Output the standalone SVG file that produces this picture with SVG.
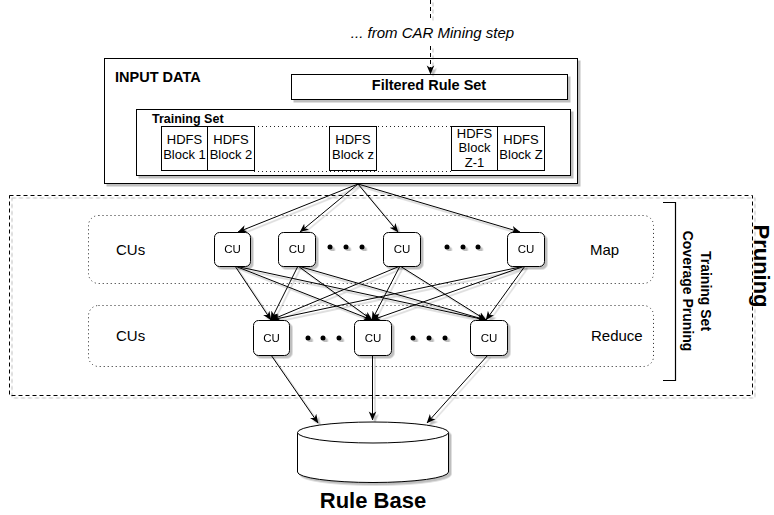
<svg xmlns="http://www.w3.org/2000/svg" width="774" height="515" viewBox="0 0 774 515">
<defs>
<filter id="sh" x="-5%" y="-5%" width="115%" height="130%">
<feDropShadow dx="2.5" dy="2.5" stdDeviation="0.6" flood-color="#000" flood-opacity="0.25"/>
</filter>
<marker id="arr" viewBox="0 0 10 10" refX="9.5" refY="5" markerWidth="9" markerHeight="9" markerUnits="userSpaceOnUse" orient="auto">
<path d="M0,0.8 L10,5 L0,9.2 L2.8,5 z" fill="#000"/>
</marker>
<style>
text{font-family:"Liberation Sans",Arial,Helvetica,sans-serif;fill:#000}
.box{fill:#fff;stroke:#000;stroke-width:1}
.cu{fill:#fff;stroke:#000;stroke-width:1}
.dot{fill:none;stroke:#222;stroke-width:1;stroke-dasharray:1 3}
.e{stroke:#000;stroke-width:1;fill:none;marker-end:url(#arr)}
.t13{font-size:13px}
.cut{font-size:11.5px;text-anchor:middle}
.lbl{font-size:15px}
</style>
</defs>
<rect width="774" height="515" fill="#fff"/>

<g id="pruning" filter="url(#sh)">
<rect x="9.5" y="195.5" width="743" height="200" fill="none" stroke="#000" stroke-dasharray="4 3"/>
</g>
<g id="pruning-label">
<text transform="translate(754,266) rotate(90)" font-size="22" font-weight="bold" text-anchor="middle">Pruning</text>
</g>
<g id="coverage-bracket">
<path d="M663,202.5 H675.5 V380.5 H663" fill="none" stroke="#000" stroke-width="1.2"/>
<text transform="translate(701,291) rotate(90)" font-size="14" font-weight="bold" text-anchor="middle">Training Set</text>
<text transform="translate(683,291) rotate(90)" font-size="14" font-weight="bold" text-anchor="middle">Coverage Pruning</text>
</g>

<g id="map-lane">
<rect x="88.5" y="215.5" width="565" height="68" rx="10" class="dot"/>
<text x="116" y="254.5" class="lbl">CUs</text>
<text x="590" y="254.5" class="lbl">Map</text>
</g>
<g id="reduce-lane">
<rect x="88.5" y="305.5" width="565" height="61" rx="10" class="dot"/>
<text x="116" y="340.5" class="lbl">CUs</text>
<text x="591" y="340.5" class="lbl">Reduce</text>
</g>

<g id="input-data">
<rect x="104.5" y="58.5" width="473" height="125" class="box" filter="url(#sh)"/>
<text x="115" y="82" font-size="14.5" font-weight="bold">INPUT DATA</text>
</g>
<g id="filtered-rule-set">
<rect x="291.5" y="74.5" width="276" height="25" class="box" filter="url(#sh)"/>
<text x="429" y="89.5" font-size="14.5" font-weight="bold" text-anchor="middle">Filtered Rule Set</text>
</g>
<g id="training-set">
<rect x="136.5" y="109.5" width="434" height="66" class="box" filter="url(#sh)"/>
<text x="152" y="123" font-size="12.5" font-weight="bold">Training Set</text>
<line x1="254" y1="126.5" x2="451" y2="126.5" class="dot"/>
<line x1="254" y1="171.5" x2="451" y2="171.5" class="dot"/>
</g>
<g id="hdfs-1">
<rect x="161.5" y="126.5" width="46" height="44" class="box"/>
<text x="184.5" y="144" class="t13" text-anchor="middle">HDFS</text>
<text x="184.5" y="159" class="t13" text-anchor="middle">Block 1</text>
</g>
<g id="hdfs-2">
<rect x="207.5" y="126.5" width="47" height="44" class="box"/>
<text x="231" y="144" class="t13" text-anchor="middle">HDFS</text>
<text x="231" y="159" class="t13" text-anchor="middle">Block 2</text>
</g>
<g id="hdfs-z">
<rect x="329.5" y="126.5" width="47" height="44" class="box"/>
<text x="353" y="144" class="t13" text-anchor="middle">HDFS</text>
<text x="353" y="159" class="t13" text-anchor="middle">Block z</text>
</g>
<g id="hdfs-Z-1">
<rect x="451.5" y="126.5" width="46" height="44" class="box"/>
<text x="474.5" y="137.5" class="t13" text-anchor="middle">HDFS</text>
<text x="474.5" y="152" class="t13" text-anchor="middle">Block</text>
<text x="474.5" y="167" class="t13" text-anchor="middle">Z-1</text>
</g>
<g id="hdfs-Z">
<rect x="497.5" y="126.5" width="47" height="44" class="box"/>
<text x="521" y="144" class="t13" text-anchor="middle">HDFS</text>
<text x="521" y="159" class="t13" text-anchor="middle">Block Z</text>
</g>

<g id="from-car">
<text x="432.5" y="38" font-size="15" font-style="italic" text-anchor="middle">... from CAR Mining step</text>
</g>

<g id="connectors" filter="url(#sh)">
<path d="M430.5,0 V20" stroke="#000" stroke-dasharray="4 3" fill="none"/>
<path d="M430.5,46 V74" stroke="#000" stroke-dasharray="4 3" fill="none" marker-end="url(#arr)"/>
<path class="e" d="M358,184 L238,232"/>
<path class="e" d="M358,184 L300,232"/>
<path class="e" d="M358,184 L398,232"/>
<path class="e" d="M358,184 L520,232"/>
<path class="e" d="M235,266 L271,320"/>
<path class="e" d="M235,266 L372,320"/>
<path class="e" d="M235,266 L486,320"/>
<path class="e" d="M298,266 L271,320"/>
<path class="e" d="M298,266 L372,320"/>
<path class="e" d="M298,266 L486,320"/>
<path class="e" d="M400,266 L271,320"/>
<path class="e" d="M400,266 L372,320"/>
<path class="e" d="M400,266 L486,320"/>
<path class="e" d="M525,266 L271,320"/>
<path class="e" d="M525,266 L372,320"/>
<path class="e" d="M525,266 L486,320"/>
<path class="e" d="M271,355 L318,423"/>
<path class="e" d="M372.5,355 L372.5,420"/>
<path class="e" d="M488,355 L427,423"/>
</g>

<g id="map-cu-1" filter="url(#sh)"><rect x="214.5" y="232.5" width="36" height="34" rx="5" class="cu"/><text x="232.5" y="253" class="cut">CU</text></g>
<g id="map-cu-2" filter="url(#sh)"><rect x="278.5" y="232.5" width="37" height="34" rx="5" class="cu"/><text x="297" y="253" class="cut">CU</text></g>
<g id="map-cu-3" filter="url(#sh)"><rect x="383.5" y="232.5" width="37" height="34" rx="5" class="cu"/><text x="402" y="253" class="cut">CU</text></g>
<g id="map-cu-4" filter="url(#sh)"><rect x="507.5" y="232.5" width="37" height="34" rx="5" class="cu"/><text x="526" y="253" class="cut">CU</text></g>
<g id="map-dots" filter="url(#sh)">
<circle cx="330" cy="247" r="2.5"/><circle cx="346" cy="247" r="2.5"/><circle cx="362" cy="247" r="2.5"/>
<circle cx="447" cy="247" r="2.5"/><circle cx="463" cy="247" r="2.5"/><circle cx="478" cy="247" r="2.5"/>
</g>

<g id="reduce-cu-1" filter="url(#sh)"><rect x="253.5" y="320.5" width="36" height="35" rx="5" class="cu"/><text x="271.5" y="341.5" class="cut">CU</text></g>
<g id="reduce-cu-2" filter="url(#sh)"><rect x="354.5" y="320.5" width="37" height="35" rx="5" class="cu"/><text x="373" y="341.5" class="cut">CU</text></g>
<g id="reduce-cu-3" filter="url(#sh)"><rect x="470.5" y="320.5" width="37" height="35" rx="5" class="cu"/><text x="489" y="341.5" class="cut">CU</text></g>
<g id="reduce-dots" filter="url(#sh)">
<circle cx="308" cy="338" r="2.5"/><circle cx="323" cy="338" r="2.5"/><circle cx="339" cy="338" r="2.5"/>
<circle cx="413" cy="338" r="2.5"/><circle cx="429" cy="338" r="2.5"/><circle cx="445" cy="338" r="2.5"/>
</g>

<g id="rule-base">
<g filter="url(#sh)">
<path d="M297.5,432.5 V472 A75.5,10.5 0 0 0 448.5,472 V432.5" fill="#fff" stroke="#000"/>
<ellipse cx="373" cy="432.5" rx="75.5" ry="10.5" fill="#fff" stroke="#000"/>
</g>
<text x="373" y="508" font-size="22" font-weight="bold" text-anchor="middle">Rule Base</text>
</g>
</svg>
